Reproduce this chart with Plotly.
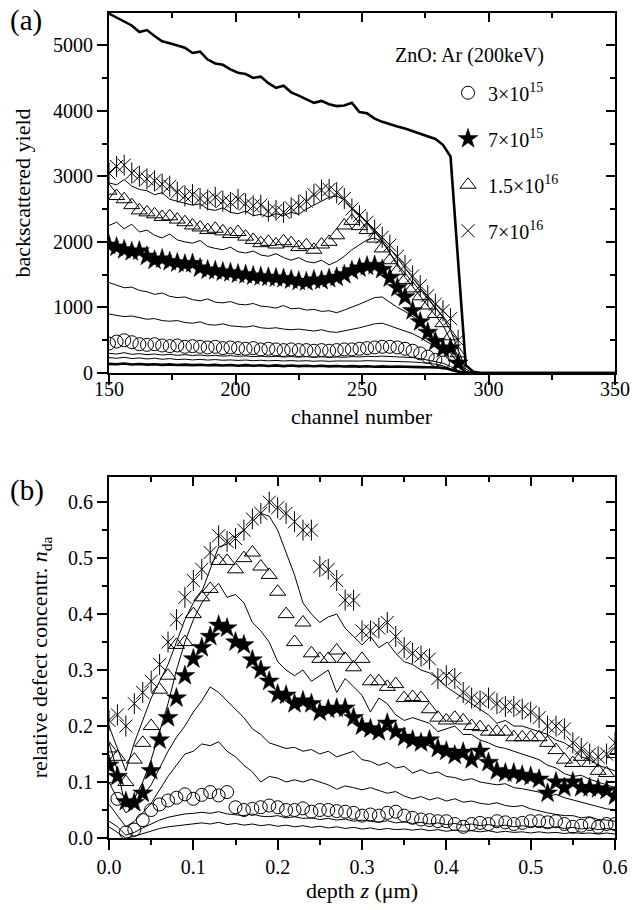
import plotly.graph_objects as go

FONT = "Liberation Serif"

# ---------------- panel (a): RBS spectra ----------------
channel = list(range(150, 298, 3))
channel_tail = [300, 325, 350]
tail_zero = [0, 0, 0]

random_yield = [5480, 5420, 5350, 5300, 5200, 5230, 5140, 5060, 5030, 4990,
                4960, 4880, 4900, 4780, 4720, 4700, 4630, 4580, 4560, 4500,
                4520, 4420, 4350, 4380, 4280, 4230, 4180, 4120, 4150, 4100,
                4070, 4080, 4120, 3980, 3960, 3880, 3830, 3790, 3760, 3730,
                3690, 3640, 3600, 3570, 3480, 3300, 1700, 120, 20, 0]
virgin_yield = [140, 135, 145, 130, 138, 128, 135, 125, 132, 122,
                128, 120, 126, 118, 124, 115, 122, 112, 120, 110,
                118, 108, 116, 106, 114, 105, 112, 104, 110, 102,
                108, 100, 106, 98, 104, 96, 102, 95, 100, 94,
                92, 90, 88, 86, 80, 55, 20, 5, 0, 0]
a_line0 = [235, 225, 240, 220, 230, 215, 225, 210, 220, 205,
           212, 200, 208, 198, 205, 195, 200, 192, 198, 188,
           195, 186, 192, 184, 190, 182, 188, 180, 186, 178,
           184, 180, 186, 182, 188, 185, 190, 186, 180, 175,
           168, 160, 150, 135, 110, 70, 25, 0, 0, 0]
a_line1 = [300, 290, 310, 285, 295, 280, 290, 275, 285, 270,
           280, 268, 275, 262, 270, 258, 265, 255, 262, 250,
           258, 248, 255, 245, 252, 242, 250, 240, 248, 238,
           245, 240, 250, 245, 255, 250, 258, 255, 250, 245,
           235, 220, 200, 180, 150, 100, 40, 5, 0, 0]
a_circles = [450, 480, 500, 470, 440, 430, 440, 420, 410, 420,
             400, 410, 400, 390, 400, 380, 390, 380, 370, 380,
             360, 370, 360, 350, 360, 350, 350, 340, 350, 340,
             350, 360, 360, 370, 380, 390, 400, 400, 390, 370,
             340, 300, 250, 200, 160, None, None, None, None, None]
a_line2 = [900, 880, 860, 870, 840, 820, 830, 800, 790, 800,
           770, 760, 780, 740, 730, 750, 720, 710, 700, 720,
           690, 680, 690, 670, 660, 670, 650, 640, 660, 630,
           620, 640, 660, 690, 720, 750, 760, 720, 690, 650,
           600, 540, 470, 400, 310, 200, 90, 10, 0, 0]
a_line3 = [1380, 1340, 1300, 1310, 1260, 1240, 1200, 1220, 1170, 1150,
           1160, 1120, 1100, 1130, 1080, 1070, 1090, 1050, 1040, 1060,
           1020, 1010, 990, 1030, 980, 990, 960, 970, 940, 950,
           920, 960, 1000, 1050, 1100, 1150, 1160, 1080, 1000, 940,
           860, 780, 680, 580, 460, 310, 150, 20, 0, 0]
a_stars = [1950, 1920, 1880, 1850, 1860, 1780, 1720, 1740, 1700, 1680,
           1660, 1670, 1600, 1570, 1560, 1540, 1530, 1510, 1500, 1480,
           1470, 1460, 1450, 1440, 1420, 1400, 1390, 1420, 1410, 1440,
           1460, 1500, 1560, 1600, 1630, 1640, 1580, 1450, 1300, 1160,
           950, 780, 620, 480, 370, 380, 150, None, None, None]
a_line4 = [2250, 2300, 2200, 2270, 2150, 2180, 2100, 2060, 2120, 2030,
           2000, 1980, 2020, 1930, 1900, 1880, 1920, 1850, 1830, 1860,
           1800, 1780, 1820, 1760, 1720, 1760, 1700, 1680, 1720, 1650,
           1700, 1780, 1880, 1960, 2030, 2060, 2000, 1830, 1640, 1460,
           1320, 1170, 1020, 880, 730, 500, 250, 30, 0, 0]
a_triangles = [2780, 2700, 2650, 2560, 2480, 2450, 2420, 2380, 2390, 2340,
               2300, 2250, 2220, 2180, 2200, 2160, 2120, 2150, 2080, 2030,
               1980, 2000, 1960, 2010, 1980, 1920, 1950, 1880, 1960, 2000,
               2100, 2250, 2320, 2240, 2180, 2050, 1900, 1720, 1560, 1420,
               1290, 1170, 1030, 900, 760, 560, 300, None, None, None]
a_line6 = [2900, 2870, 2950, 2850, 2800, 2780, 2720, 2750, 2650, 2620,
           2600, 2560, 2580, 2500, 2480, 2520, 2450, 2430, 2470, 2400,
           2420, 2380, 2430, 2400, 2450, 2420, 2500, 2560, 2620, 2680,
           2700, 2640, 2520, 2420, 2300, 2170, 2040, 1900, 1750, 1600,
           1450, 1300, 1150, 1000, 850, 650, 350, 60, 0, 0]
a_asterisks = [3050, 3150, 3170, 3050, 3000, 2960, 2930, 2880, 2850, 2760,
               2700, 2720, 2660, 2640, 2680, 2620, 2600, 2650, 2580, 2550,
               2560, 2470, 2480, 2450, 2520, 2560, 2620, 2720, 2790, 2800,
               2750, 2660, 2500, 2400, 2300, 2180, 2070, 1950, 1780, 1640,
               1480, 1330, 1180, 1050, 950, 830, 500, None, None, None]

# ---------------- panel (b): defect profiles ----------------
depth = [round(0.01 * i, 2) for i in range(61)]

b_asterisks = [0.21, 0.22, 0.20, 0.24, 0.26, 0.28, 0.31, 0.35, 0.39, 0.43,
               0.46, 0.48, 0.51, 0.54, 0.53, 0.535, 0.55, 0.57, 0.58, 0.60,
               0.59, 0.58, 0.565, 0.55, 0.55, 0.485, 0.48, 0.46, 0.425, 0.425,
               0.37, 0.37, 0.375, 0.385, 0.36, 0.34, 0.33, 0.325, 0.32, 0.285,
               0.29, 0.285, 0.26, 0.25, 0.245, 0.25, 0.24, 0.235, 0.235, 0.23,
               0.225, 0.215, 0.20, 0.20, 0.195, 0.17, 0.16, 0.15, 0.145, 0.15,
               0.17]
b_line6 = [0.20, 0.16, 0.12, 0.17, 0.21, 0.25, 0.28, 0.31, 0.35, 0.39,
           0.42, 0.44, 0.48, 0.52, 0.525, 0.54, 0.55, 0.565, 0.58, 0.575,
           0.55, 0.51, 0.47, 0.42, 0.40, 0.385, 0.395, 0.40, 0.375, 0.36,
           0.345, 0.36, 0.34, 0.35, 0.33, 0.315, 0.31, 0.30, 0.295, 0.285,
           0.27, 0.26, 0.25, 0.24, 0.23, 0.22, 0.205, 0.21, 0.20, 0.20,
           0.195, 0.19, 0.185, 0.175, 0.17, 0.16, 0.145, 0.14, 0.13, 0.125,
           0.12]
b_triangles = [0.16, 0.145, 0.10, 0.14, 0.17, 0.20, 0.265, 0.29, 0.345, 0.35,
               0.40, 0.43, 0.445, 0.495, 0.495, 0.48, 0.50, 0.51, 0.485, 0.47,
               0.44, 0.40, 0.35, 0.385, 0.33, 0.32, 0.32, 0.335, 0.32, 0.305,
               0.32, 0.28, 0.28, 0.27, 0.275, 0.25, 0.252, 0.25, 0.23, 0.215,
               0.21, 0.215, 0.21, 0.20, 0.198, 0.19, 0.19, 0.19, 0.18, 0.18,
               0.18, 0.18, 0.17, 0.157, 0.14, 0.134, 0.145, 0.134, 0.12, 0.116,
               0.15]
b_line4 = [0.17, 0.12, 0.055, 0.07, 0.10, 0.14, 0.19, 0.24, 0.30, 0.35,
           0.39, 0.42, 0.44, 0.455, 0.43, 0.435, 0.42, 0.385, 0.37, 0.35,
           0.315, 0.30, 0.29, 0.30, 0.28, 0.29, 0.30, 0.26, 0.285, 0.27,
           0.255, 0.225, 0.25, 0.24, 0.22, 0.21, 0.215, 0.21, 0.205, 0.19,
           0.195, 0.20, 0.185, 0.185, 0.175, 0.17, 0.163, 0.16, 0.155, 0.15,
           0.145, 0.14, 0.13, 0.125, 0.115, 0.11, 0.112, 0.105, 0.10, 0.095,
           0.09]
b_stars = [0.13, 0.11, 0.065, 0.063, 0.08, 0.12, 0.175, 0.215, 0.25, 0.29,
           0.32, 0.34, 0.36, 0.38, 0.375, 0.35, 0.345, 0.318, 0.30, 0.28,
           0.257, 0.255, 0.24, 0.245, 0.24, 0.225, 0.23, 0.232, 0.232, 0.215,
           0.20, 0.195, 0.19, 0.205, 0.19, 0.18, 0.175, 0.17, 0.175, 0.16,
           0.155, 0.148, 0.153, 0.14, 0.155, 0.135, 0.12, 0.116, 0.116, 0.112,
           0.11, 0.105, 0.08, 0.10, 0.09, 0.10, 0.09, 0.09, 0.088, 0.085,
           0.075]
b_line3 = [0.10, 0.07, 0.045, 0.055, 0.075, 0.095, 0.125, 0.155, 0.18, 0.20,
           0.225, 0.245, 0.27, 0.26, 0.245, 0.23, 0.215, 0.195, 0.185, 0.17,
           0.165, 0.16, 0.162, 0.155, 0.158, 0.15, 0.155, 0.145, 0.15, 0.155,
           0.14, 0.137, 0.13, 0.135, 0.125, 0.128, 0.116, 0.122, 0.115, 0.118,
           0.11, 0.108, 0.103, 0.106, 0.10, 0.098, 0.095, 0.097, 0.09, 0.088,
           0.085, 0.082, 0.074, 0.078, 0.072, 0.068, 0.063, 0.06, 0.055, 0.052,
           0.05]
b_line2 = [0.06, 0.04, 0.02, 0.03, 0.045, 0.062, 0.085, 0.11, 0.13, 0.15,
           0.155, 0.168, 0.165, 0.172, 0.155, 0.145, 0.13, 0.118, 0.10, 0.11,
           0.107, 0.10, 0.104, 0.10, 0.105, 0.10, 0.095, 0.087, 0.093, 0.09,
           0.086, 0.09, 0.085, 0.08, 0.083, 0.075, 0.07, 0.074, 0.068, 0.072,
           0.066, 0.07, 0.064, 0.066, 0.062, 0.06, 0.063, 0.058, 0.056, 0.058,
           0.052, 0.048, 0.045, 0.042, 0.04, 0.04, 0.036, 0.038, 0.033, 0.032,
           0.03]
b_circles = [0.11, 0.07, 0.01, 0.015, 0.032, 0.05, 0.06, 0.067, 0.072, 0.078,
             0.07, 0.077, 0.082, 0.076, 0.082, 0.055, 0.05, 0.052, 0.055, 0.058,
             0.055, 0.05, 0.05, 0.053, 0.047, 0.05, 0.05, 0.048, 0.047, 0.045,
             0.04, 0.042, 0.04, 0.045, 0.047, 0.04, 0.036, 0.033, 0.032, 0.03,
             0.03, 0.025, 0.02, 0.025, 0.027, 0.025, 0.03, 0.028, 0.025, 0.027,
             0.03, 0.03, 0.028, 0.03, 0.025, 0.02, 0.022, 0.025, 0.02, 0.025,
             0.025]
b_line1 = [0.03, 0.02, 0.005, 0.01, 0.018, 0.025, 0.032, 0.037, 0.04, 0.043,
           0.044, 0.046, 0.044, 0.047, 0.043, 0.042, 0.04, 0.043, 0.039, 0.038,
           0.04, 0.036, 0.038, 0.035, 0.036, 0.033, 0.035, 0.032, 0.034, 0.03,
           0.032, 0.03, 0.028, 0.031, 0.027, 0.029, 0.026, 0.028, 0.025, 0.027,
           0.024, 0.026, 0.023, 0.025, 0.022, 0.024, 0.021, 0.023, 0.02, 0.022,
           0.02, 0.021, 0.018, 0.02, 0.017, 0.019, 0.016, 0.018, 0.015, 0.017,
           0.015]
b_line0 = [0.02, 0.01, 0.0, 0.003, 0.008, 0.013, 0.017, 0.02, 0.022, 0.024,
           0.025, 0.027, 0.025, 0.028, 0.024, 0.026, 0.023, 0.025, 0.022, 0.024,
           0.021, 0.023, 0.02, 0.022, 0.019, 0.021, 0.018, 0.02, 0.017, 0.019,
           0.016, 0.018, 0.015, 0.017, 0.015, 0.016, 0.014, 0.016, 0.013, 0.015,
           0.012, 0.014, 0.012, 0.013, 0.011, 0.013, 0.01, 0.012, 0.01, 0.011,
           0.009, 0.011, 0.009, 0.01, 0.008, 0.01, 0.008, 0.009, 0.007, 0.009,
           0.007]

legend_names = ["3×10<sup>15</sup>", "7×10<sup>15</sup>",
                "1.5×10<sup>16</sup>", "7×10<sup>16</sup>"]

fig = go.Figure()


def add_line(x, y, xa, ya, width=1.0):
    fig.add_trace(go.Scatter(x=x, y=y, mode="lines",
                             line=dict(color="black", width=width),
                             showlegend=False, hoverinfo="skip",
                             xaxis=xa, yaxis=ya))


def add_marks(x, y, xa, ya, symbol, size, name=None, lw=1.0):
    fig.add_trace(go.Scatter(
        x=x, y=y, mode="markers", name=name or "",
        marker=dict(symbol=symbol, size=size, color="black",
                    line=dict(color="black", width=lw)),
        showlegend=name is not None, legendgroup=name or None,
        hoverinfo="skip", xaxis=xa, yaxis=ya))


# panel (a)
add_line(channel + channel_tail, random_yield + tail_zero, "x", "y", 2.6)
add_line(channel + channel_tail, virgin_yield + tail_zero, "x", "y", 2.6)
for ser in (a_line0, a_line1, a_line2, a_line3, a_line4, a_line6):
    add_line(channel, ser, "x", "y", 1.0)
add_marks(channel, a_circles, "x", "y", "circle-open", 13, legend_names[0])
add_marks(channel, a_stars, "x", "y", "star", 15, legend_names[1], lw=0.5)
add_marks(channel, a_triangles, "x", "y", "triangle-up-open", 14, legend_names[2])
add_marks(channel, a_asterisks, "x", "y", "x-thin-open", 13, legend_names[3])
add_marks(channel, a_asterisks, "x", "y", "line-ns-open", 15)

# panel (b)
for ser in (b_line0, b_line1, b_line2, b_line3, b_line4, b_line6):
    add_line(depth, ser, "x2", "y2", 1.0)
add_marks(depth, b_circles, "x2", "y2", "circle-open", 13)
add_marks(depth, b_stars, "x2", "y2", "star", 15, lw=0.5)
add_marks(depth, b_triangles, "x2", "y2", "triangle-up-open", 14)
add_marks(depth, b_asterisks, "x2", "y2", "x-thin-open", 13)
add_marks(depth, b_asterisks, "x2", "y2", "line-ns-open", 15)

# empty traces that activate the mirrored (inward-tick) axes
fig.add_trace(go.Scatter(x=[None], y=[None], showlegend=False, hoverinfo="skip", xaxis="x3", yaxis="y3"))
fig.add_trace(go.Scatter(x=[None], y=[None], showlegend=False, hoverinfo="skip", xaxis="x4", yaxis="y4"))

tickfont = dict(family=FONT, size=20, color="black")
titlefont = dict(family=FONT, size=22, color="black")


def main_axis(**kw):
    d = dict(showline=True, linecolor="black", linewidth=2, mirror=True,
             ticks="outside", ticklen=10, tickwidth=1.5, tickcolor="black",
             showgrid=False, zeroline=False, tickfont=tickfont,
             automargin=False)
    d.update(kw)
    return d


def mirror_axis(**kw):
    d = dict(showline=False, ticks="inside", ticklen=9, tickwidth=1.5,
             tickcolor="black", showgrid=False, zeroline=False,
             showticklabels=False, automargin=False)
    d.update(kw)
    return d


top_dom = [0.5636, 1.0]
bot_dom = [0.0, 0.4376]
xr_a, yr_a = [150, 350], [0, 5490]
xr_b, yr_b = [0, 0.6], [0, 0.645]

fig.update_layout(
    width=632, height=910,
    margin=dict(l=109, r=17, t=13, b=72),
    paper_bgcolor="white", plot_bgcolor="white",
    template="none",
    hovermode=False,
    font=dict(family=FONT, color="black"),
    xaxis=main_axis(range=xr_a, anchor="y", domain=[0, 1], dtick=50, tick0=150,
                    ticklabelstandoff=-13,
                    minor=dict(dtick=25, ticklen=5, ticks="outside", tickcolor="black")),
    yaxis=main_axis(range=yr_a, anchor="x", domain=top_dom, dtick=1000,
                    minor=dict(dtick=500, ticklen=5, ticks="outside", tickcolor="black"),
                    title=dict(text="backscattered yield", font=titlefont, standoff=16)),
    xaxis2=main_axis(range=xr_b, anchor="y2", domain=[0, 1], dtick=0.1, tickformat=".1f",
                     minor=dict(dtick=0.05, ticklen=5, ticks="outside", tickcolor="black"),
                     title=dict(text="depth <i>z</i> (μm)", font=titlefont, standoff=6)),
    yaxis2=main_axis(range=yr_b, anchor="x2", domain=bot_dom, dtick=0.1, tickformat=".1f",
                     minor=dict(dtick=0.05, ticklen=5, ticks="outside", tickcolor="black"),
                     title=dict(text="relative defect concentr. <i>n</i><sub>da</sub>",
                                font=titlefont, standoff=14)),
    xaxis3=mirror_axis(range=xr_a, overlaying="x", anchor="y", side="top", dtick=50, tick0=150,
                       minor=dict(dtick=25, ticklen=5, ticks="inside", tickcolor="black")),
    yaxis3=mirror_axis(range=yr_a, overlaying="y", anchor="x", side="right", dtick=1000,
                       minor=dict(dtick=500, ticklen=5, ticks="inside", tickcolor="black")),
    xaxis4=mirror_axis(range=xr_b, overlaying="x2", anchor="y2", side="top", dtick=0.1,
                       minor=dict(dtick=0.05, ticklen=5, ticks="inside", tickcolor="black")),
    yaxis4=mirror_axis(range=yr_b, overlaying="y2", anchor="x2", side="right", dtick=0.1,
                       minor=dict(dtick=0.05, ticklen=5, ticks="inside", tickcolor="black")),
    showlegend=True,
    legend=dict(x=0.67, y=0.927, xanchor="left", yanchor="top",
                bgcolor="rgba(0,0,0,0)", borderwidth=0,
                font=dict(family=FONT, size=20, color="black"),
                tracegroupgap=17, itemsizing="trace"),
    annotations=[
        dict(text="channel number", x=0.5, y=0.5285, xref="paper", yref="paper",
             xanchor="center", yanchor="top", showarrow=False, font=titlefont),
        dict(text="ZnO: Ar (200keV)", x=0.713, y=0.949, xref="paper", yref="paper",
             xanchor="center", yanchor="middle", showarrow=False,
             font=dict(family=FONT, size=20, color="black")),
        dict(text="(a)", x=-0.2, y=0.9915, xref="paper", yref="paper",
             xanchor="left", yanchor="middle", showarrow=False,
             font=dict(family=FONT, size=29, color="black")),
        dict(text="(b)", x=-0.2, y=0.4218, xref="paper", yref="paper",
             xanchor="left", yanchor="middle", showarrow=False,
             font=dict(family=FONT, size=29, color="black")),
    ],
)

fig.write_html("out.html", config={"displayModeBar": False},
               post_script="document.body.style.margin='0';")
